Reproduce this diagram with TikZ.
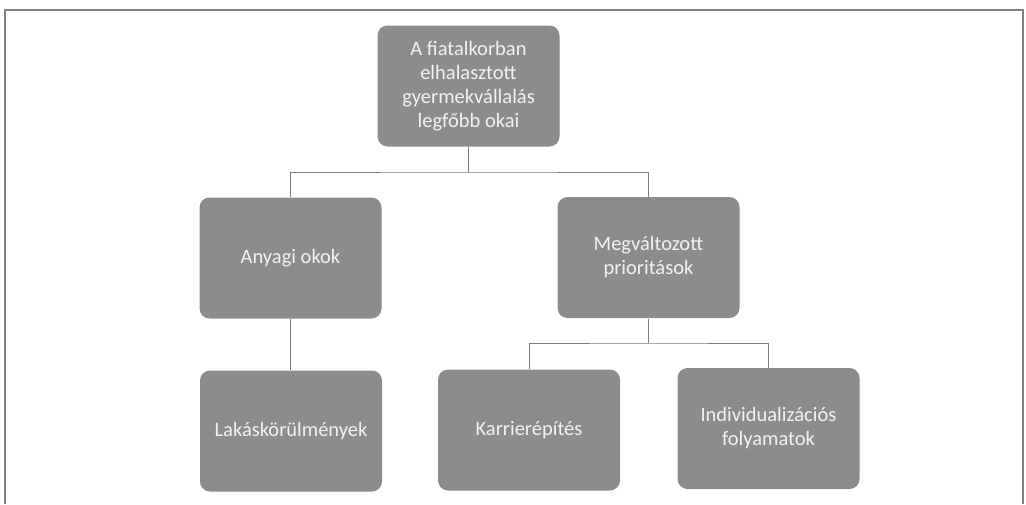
\documentclass[tikz,border=0pt]{standalone}
\usepackage{fontspec}
\setmainfont{Carlito}
\usetikzlibrary{positioning}
\definecolor{cfill}{HTML}{8C8C8C}
\definecolor{ctext}{HTML}{F2F2F2}
\definecolor{cline}{HTML}{7A7A7A}
\definecolor{cframe}{HTML}{808080}
\tikzset{
  every picture/.style={line width=1pt},
  causebox/.style={fill=cfill, rounded corners=10pt, align=center, text=ctext,
    minimum width=182pt, minimum height=121pt, inner sep=4pt,
    font=\fontsize{20.5}{24}\selectfont},
  link/.style={draw=cline, line width=1pt},
  frame/.style={draw=cframe, line width=1.6pt},
}
\begin{document}
\begin{tikzpicture}[x=1pt, y=-1pt]
  \useasboundingbox (0,0) rectangle (1026,504);
  \draw[frame] (5,504) -- (5,10) -- (1023,10) -- (1023,504);
  % top level
  \node[causebox] (root) at (468.5,86) {A fiatalkorban\\elhalasztott\\gyermekvállalás\\legfőbb okai};
  % second level
  \node[causebox] (anyagi) at (290.5,258) {Anyagi okok};
  \node[causebox] (megv) at (648.5,257.5) {Megváltozott\\prioritások};
  % third level
  \node[causebox] (lakas) at (291,431) {Lakáskörülmények};
  \node[causebox] (karrier) at (529,430) {Karrierépítés};
  \node[causebox] (indiv) at (768.5,428.5) {Individualizációs\\folyamatok};
  % connectors
  \coordinate (rootbus) at (468.5,172);
  \coordinate (megvbus) at (648.5,343);
  \draw[link] (root.south) -- (rootbus);
  \draw[link] (anyagi.north) |- (rootbus) -| (megv.north);
  \draw[link] (anyagi.south) -- (lakas.north -| anyagi.south);
  \draw[link] (megv.south) -- (megvbus);
  \draw[link] (karrier.north) |- (megvbus) -| (indiv.north);
\end{tikzpicture}
\end{document}
